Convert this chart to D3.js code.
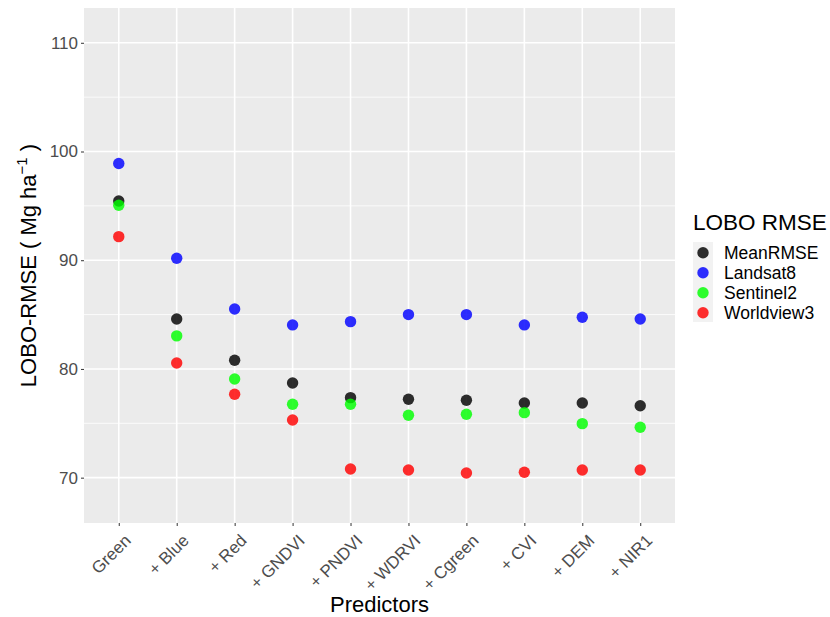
<!DOCTYPE html>
<html><head><meta charset="utf-8">
<script src="https://cdn.jsdelivr.net/npm/d3@7"></script>
<style>body{margin:0;background:#fff}svg{display:block;font-family:"Liberation Sans",Arial,sans-serif}</style>
</head><body><svg id="c" width="830" height="617"></svg>
<script>
const categories = ["Green","+ Blue","+ Red","+ GNDVI","+ PNDVI","+ WDRVI","+ Cgreen","+ CVI","+ DEM","+ NIR1"];
const seriesNames = ["MeanRMSE","Landsat8","Sentinel2","Worldview3"];
const seriesColors = ["#000000","#0000ff","#00ff00","#ff0000"];
const meanRMSE   = [95.45,84.6,80.8,78.71,77.36,77.21,77.12,76.87,76.87,76.62];
const landsat8   = [98.9,90.18,85.52,84.05,84.35,85.0,85.0,84.05,84.76,84.6];
const sentinel2  = [95.06,83.04,79.08,76.75,76.75,75.74,75.83,75.98,74.97,74.64];
const worldview3 = [92.17,80.55,77.67,75.3,70.8,70.71,70.43,70.5,70.71,70.71];
const yTicks = [70,80,90,100,110];
const yMinor = [75,85,95,105];
const yDomain = [65.83,113.2];

const seriesValues = [meanRMSE,landsat8,sentinel2,worldview3];
const svg = d3.select("#c");
const P = {l:84, r:675, t:8, b:523};

const x = d3.scalePoint().domain(categories).range([P.l, P.r]).padding(0.6);
const y = d3.scaleLinear().domain(yDomain).range([P.b, P.t]);

svg.append("rect").attr("x",P.l).attr("y",P.t).attr("width",P.r-P.l).attr("height",P.b-P.t).attr("fill","#ebebeb");
svg.append("g").selectAll("line").data(yMinor).join("line")
  .attr("x1",P.l).attr("x2",P.r).attr("y1",d=>y(d)).attr("y2",d=>y(d))
  .attr("stroke","#fff").attr("stroke-width",0.8);
svg.append("g").selectAll("line").data(yTicks).join("line")
  .attr("x1",P.l).attr("x2",P.r).attr("y1",d=>y(d)).attr("y2",d=>y(d))
  .attr("stroke","#fff").attr("stroke-width",1.6);
svg.append("g").selectAll("line").data(categories).join("line")
  .attr("y1",P.t).attr("y2",P.b).attr("x1",d=>x(d)).attr("x2",d=>x(d))
  .attr("stroke","#fff").attr("stroke-width",1.6);

const yAxis = svg.append("g").attr("transform",`translate(${P.l},0)`)
  .call(d3.axisLeft(y).tickValues(yTicks).tickSize(3).tickPadding(3));
yAxis.select(".domain").remove();
yAxis.selectAll(".tick line").attr("stroke","#333");
yAxis.selectAll(".tick text").attr("fill","#4d4d4d").attr("font-size",17).attr("font-family","Liberation Sans, Arial");

const xAxis = svg.append("g").attr("transform",`translate(0,${P.b})`)
  .call(d3.axisBottom(x).tickSize(3).tickPadding(3));
xAxis.select(".domain").remove();
xAxis.selectAll(".tick line").attr("stroke","#333");
xAxis.selectAll(".tick text").attr("fill","#4d4d4d").attr("font-size",17).attr("font-family","Liberation Sans, Arial")
  .attr("text-anchor","end").attr("x",0).attr("y",0).attr("dy","0.72em")
  .attr("transform","translate(4,10) rotate(-45)");

seriesNames.forEach((s,si)=>{
  svg.append("g").selectAll("circle").data(seriesValues[si]).join("circle")
    .attr("cx",(d,i)=>x(categories[i])).attr("cy",d=>y(d)).attr("r",5.7)
    .attr("fill",seriesColors[si]).attr("fill-opacity",0.82);
});

svg.append("text").attr("x",(P.l+P.r)/2).attr("y",612).attr("text-anchor","middle")
  .attr("font-size",22).attr("fill","#000").text("Predictors");
const yt = svg.append("text").attr("transform",`translate(36,${(P.t+P.b)/2}) rotate(-90)`)
  .attr("text-anchor","middle").attr("font-size",22).attr("fill","#000");
yt.append("tspan").text("LOBO-RMSE ( Mg ha");
yt.append("tspan").attr("dy",-9).attr("font-size",15).text("−1");
yt.append("tspan").attr("dy",9).text(" )");

const lg = svg.append("g").attr("transform","translate(693,0)");
lg.append("text").attr("x",0).attr("y",230).attr("font-size",22.5).attr("fill","#000").text("LOBO RMSE");
lg.append("rect").attr("x",0).attr("y",242).attr("width",20).attr("height",80).attr("fill","#f2f2f2");
const ly = d3.scalePoint().domain(seriesNames).range([252.7,312.7]);
seriesNames.forEach((s,si)=>{
  lg.append("circle").attr("cx",10).attr("cy",ly(s)).attr("r",5.7).attr("fill",seriesColors[si]).attr("fill-opacity",0.82);
  lg.append("text").attr("x",31).attr("y",ly(s)).attr("dy","0.36em").attr("font-size",17.5).attr("fill","#000").text(s);
});
</script></body></html>
